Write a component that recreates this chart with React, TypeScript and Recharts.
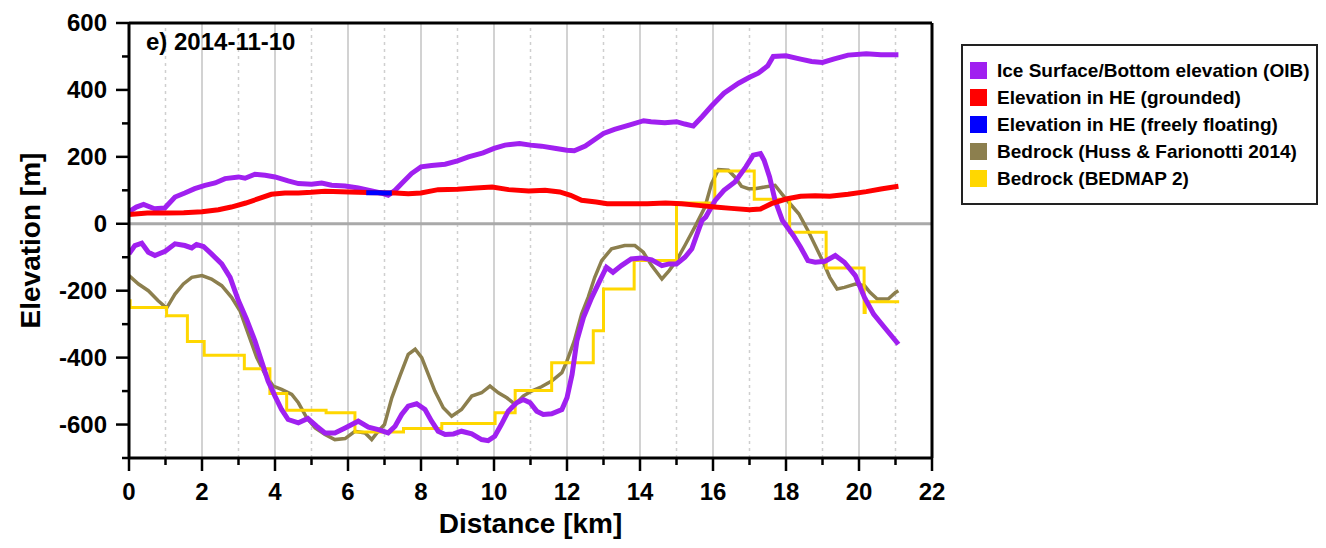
import React from 'react';
import { LineChart, Line, XAxis, YAxis, ReferenceLine, Label } from 'recharts';

const FONT = 'Arial, "Liberation Sans", Helvetica, sans-serif';

const distanceTicks = [0, 1, 2, 3, 4, 5, 6, 7, 8, 9, 10, 11, 12, 13, 14, 15, 16, 17, 18, 19, 20, 21, 22];
const elevationTicks = [-700, -600, -500, -400, -300, -200, -100, 0, 100, 200, 300, 400, 500, 600];
const gridSolid = [2, 4, 6, 8, 10, 12, 14, 16, 18, 20];
const gridDashed = [1, 3, 5, 7, 9, 11, 13, 15, 17, 19, 21];

// [distance km, elevation m]
const iceSurface = [
  [0, 36], [0.2, 50], [0.4, 58], [0.7, 45], [0.98, 47], [1.26, 80], [1.53, 92], [1.8, 105], [2.08, 115],
  [2.36, 122], [2.63, 135], [3.0, 140], [3.18, 136], [3.45, 148], [3.73, 145], [4.0, 140], [4.36, 128],
  [4.64, 120], [5.0, 118], [5.28, 122], [5.55, 115], [5.92, 113], [6.28, 107], [6.65, 98], [6.9, 92],
  [7.1, 85], [7.29, 100], [7.47, 120], [7.74, 150], [8.0, 170], [8.29, 174], [8.66, 178], [9.0, 188],
  [9.3, 200], [9.7, 212], [10.0, 225], [10.3, 235], [10.7, 240], [11.0, 235], [11.3, 232], [11.7, 225],
  [12.0, 220], [12.2, 218], [12.5, 232], [12.8, 255], [13.0, 270], [13.3, 282], [13.7, 295], [14.1, 308],
  [14.3, 305], [14.68, 302], [15.0, 305], [15.23, 298], [15.46, 292], [15.7, 320], [15.96, 352],
  [16.3, 390], [16.7, 420], [17.0, 438], [17.24, 450], [17.5, 472], [17.65, 500], [18.0, 502],
  [18.4, 492], [18.7, 485], [19.0, 482], [19.3, 492], [19.7, 504], [20.2, 508], [20.6, 505], [21.08, 505],
];

const iceBottom = [
  [0, -90], [0.16, -65], [0.35, -58], [0.53, -85], [0.71, -95], [0.99, -82], [1.26, -60], [1.53, -65],
  [1.72, -72], [1.85, -62], [2.04, -68], [2.26, -90], [2.54, -120], [2.77, -160], [3.0, -230],
  [3.22, -285], [3.45, -350], [3.63, -410], [3.81, -470], [4.0, -515], [4.18, -555], [4.36, -585],
  [4.64, -595], [4.9, -582], [5.14, -605], [5.37, -625], [5.64, -625], [5.92, -610], [6.28, -590],
  [6.56, -608], [6.83, -615], [7.1, -625], [7.29, -605], [7.47, -570], [7.65, -545], [7.88, -538],
  [8.11, -555], [8.29, -590], [8.47, -620], [8.66, -630], [8.89, -628], [9.11, -620], [9.39, -628],
  [9.66, -645], [9.84, -648], [10.02, -635], [10.2, -600], [10.39, -560], [10.62, -535], [10.8, -525],
  [10.99, -535], [11.17, -560], [11.35, -570], [11.58, -568], [11.86, -555], [12.0, -520], [12.14, -450],
  [12.27, -350], [12.45, -280], [12.68, -220], [12.9, -170], [13.08, -130], [13.26, -145], [13.49, -125],
  [13.76, -105], [14.04, -102], [14.32, -108], [14.6, -125], [14.8, -120], [15.0, -120], [15.23, -100],
  [15.42, -75], [15.6, -20], [15.7, 10], [15.8, 20], [16.06, 70], [16.3, 100], [16.6, 125], [16.9, 170],
  [17.1, 205], [17.3, 210], [17.4, 190], [17.55, 140], [17.7, 70], [17.9, 10], [18.2, -35], [18.4, -70],
  [18.6, -110], [18.8, -115], [19.07, -112], [19.35, -95], [19.6, -115], [19.9, -155], [20.15, -220],
  [20.4, -270], [20.7, -310], [21.08, -360],
];

const heGrounded = [
  [0, 28], [0.5, 32], [1.0, 32], [1.5, 33], [2.0, 36], [2.45, 42], [2.8, 50], [3.2, 62], [3.55, 75],
  [3.9, 88], [4.27, 92], [4.64, 92], [5.0, 94], [5.37, 97], [5.8, 96], [6.28, 94], [6.8, 93], [7.3, 92],
  [7.65, 90], [8.0, 92], [8.47, 102], [9.0, 103], [9.5, 107], [9.95, 110], [10.4, 102], [10.95, 98],
  [11.4, 100], [11.8, 95], [12.1, 85], [12.4, 70], [12.8, 65], [13.1, 60], [13.7, 60], [14.2, 60],
  [14.7, 62], [15.14, 60], [15.6, 55], [16.05, 50], [16.5, 46], [17.0, 42], [17.3, 44], [17.6, 60],
  [18.0, 74], [18.4, 82], [18.8, 84], [19.2, 82], [19.7, 88], [20.2, 96], [20.6, 104], [21.08, 112],
];

const heFloating = [[6.5, 93], [6.8, 93], [7.0, 92], [7.2, 92]];

const bedHuss = [
  [0, -155], [0.26, -180], [0.53, -200], [0.8, -230], [1.03, -252], [1.26, -210], [1.49, -180],
  [1.72, -160], [2.0, -155], [2.26, -165], [2.54, -185], [2.81, -220], [3.04, -260], [3.27, -330],
  [3.5, -400], [3.73, -450], [3.95, -485], [4.18, -495], [4.46, -510], [4.64, -535], [4.87, -580],
  [5.1, -610], [5.37, -630], [5.64, -645], [5.92, -642], [6.19, -620], [6.47, -625], [6.65, -645],
  [6.83, -620], [7.0, -600], [7.2, -520], [7.42, -455], [7.65, -390], [7.84, -375], [8.02, -400],
  [8.2, -450], [8.38, -500], [8.61, -550], [8.84, -575], [9.11, -555], [9.39, -515], [9.66, -505],
  [9.89, -485], [10.12, -505], [10.35, -520], [10.58, -540], [10.8, -515], [11.03, -500], [11.3, -487],
  [11.58, -470], [11.86, -445], [12.0, -410], [12.2, -350], [12.4, -270], [12.58, -220], [12.76, -160],
  [12.95, -110], [13.22, -75], [13.58, -65], [13.86, -65], [14.09, -85], [14.32, -125], [14.6, -165],
  [14.8, -140], [15.0, -110], [15.23, -65], [15.5, -10], [15.78, 50], [15.96, 120], [16.15, 162],
  [16.42, 160], [16.6, 140], [16.78, 112], [16.97, 105], [17.15, 105], [17.42, 110], [17.7, 115],
  [17.88, 90], [18.07, 65], [18.35, 30], [18.6, -20], [18.8, -65], [19.0, -110], [19.2, -160],
  [19.4, -195], [19.6, -190], [19.9, -180], [20.15, -185], [20.3, -205], [20.5, -225], [20.8, -225],
  [21.0, -205], [21.08, -200],
];

// step starts (drawn stepAfter)
const bedBedmap = [
  [0, -230], [0.03, -250], [1.03, -275], [1.6, -352], [2.06, -393], [3.16, -433], [3.86, -507],
  [4.32, -557], [5.4, -565], [6.19, -622], [7.52, -612], [8.57, -597], [10.03, -565], [10.58, -498],
  [11.58, -415], [12.72, -320], [13.0, -195], [13.84, -110], [15.0, 62], [16.05, 158], [17.13, 73],
  [18.1, -25], [19.1, -132], [20.14, -265], [20.17, -233], [21.1, -233],
];

const legendItems = [
  { label: 'Ice Surface/Bottom elevation (OIB)', color: '#a020f0' },
  { label: 'Elevation in HE (grounded)', color: '#ff0000' },
  { label: 'Elevation in HE (freely floating)', color: '#0000ff' },
  { label: 'Bedrock (Huss & Farionotti 2014)', color: '#8c7f4e' },
  { label: 'Bedrock (BEDMAP 2)', color: '#ffd700' },
];

const toPoints = (arr: number[][]) => arr.map(([x, y]) => ({ x, y }));

const BottomTick = ({ x, y, payload }: any) => {
  const major = payload.value % 2 === 0;
  return (
    <g>
      <line x1={x} y1={y} x2={x} y2={y + (major ? 13 : 7)} stroke="#000" strokeWidth={2.5} />
      {major && (
        <text x={x} y={y + 42} textAnchor="middle" fontSize={24} fontWeight="bold" fontFamily={FONT} fill="#000">
          {payload.value}
        </text>
      )}
    </g>
  );
};

const TopTick = ({ x, y, payload }: any) => {
  const major = payload.value % 2 === 0;
  return <line x1={x} y1={y} x2={x} y2={y - (major ? 13 : 7)} stroke="#000" strokeWidth={2.5} />;
};

const LeftTick = ({ x, y, payload }: any) => {
  const major = payload.value % 200 === 0;
  return (
    <g>
      <line x1={x} y1={y} x2={x - (major ? 13 : 7)} y2={y} stroke="#000" strokeWidth={2.5} />
      {major && (
        <text x={x - 22} y={y + 8} textAnchor="end" fontSize={24} fontWeight="bold" fontFamily={FONT} fill="#000">
          {payload.value}
        </text>
      )}
    </g>
  );
};

const RightTick = ({ x, y, payload }: any) => {
  const major = payload.value % 200 === 0;
  return <line x1={x} y1={y} x2={x + (major ? 13 : 7)} y2={y} stroke="#000" strokeWidth={2.5} />;
};

const axisLine = { stroke: '#000', strokeWidth: 3 };

export default function App() {
  return (
    <div style={{ position: 'relative', width: 1310, height: 532, fontFamily: FONT, background: '#fff' }}>
      <LineChart width={1310} height={532} margin={{ top: 0, right: 366, bottom: 0, left: 0 }}>
        <XAxis
          dataKey="x"
          type="number"
          domain={[0, 22]}
          ticks={distanceTicks}
          interval={0}
          height={82}
          tickSize={0}
          tickMargin={0}
          tickLine={false}
          axisLine={axisLine}
          tick={<BottomTick />}
          allowDataOverflow
        >
          <Label
            content={({ viewBox }: any) => (
              <text
                x={viewBox.x + viewBox.width / 2}
                y={viewBox.y + 75}
                textAnchor="middle"
                fontSize={28}
                fontWeight="bold"
                fontFamily={FONT}
                fill="#000"
              >
                Distance [km]
              </text>
            )}
          />
        </XAxis>
        <XAxis
          xAxisId="top"
          orientation="top"
          type="number"
          domain={[0, 22]}
          ticks={distanceTicks}
          interval={0}
          height={15}
          tickSize={0}
          tickMargin={0}
          tickLine={false}
          axisLine={axisLine}
          tick={<TopTick />}
        />
        <YAxis
          type="number"
          domain={[-700, 600]}
          ticks={elevationTicks}
          interval={0}
          width={121}
          tickSize={0}
          tickMargin={0}
          tickLine={false}
          axisLine={axisLine}
          tick={<LeftTick />}
          allowDataOverflow
        >
          <Label
            content={({ viewBox }: any) => {
              const cx = viewBox.x + 22;
              const cy = viewBox.y + viewBox.height / 2;
              return (
                <text
                  x={cx}
                  y={cy}
                  transform={`rotate(-90, ${cx}, ${cy})`}
                  textAnchor="middle"
                  dominantBaseline="central"
                  fontSize={28}
                  fontWeight="bold"
                  fontFamily={FONT}
                  fill="#000"
                >
                  Elevation [m]
                </text>
              );
            }}
          />
        </YAxis>
        <YAxis
          yAxisId="right"
          orientation="right"
          type="number"
          domain={[-700, 600]}
          ticks={elevationTicks}
          interval={0}
          width={20}
          tickSize={0}
          tickMargin={0}
          tickLine={false}
          axisLine={axisLine}
          tick={<RightTick />}
        />

        {gridSolid.map((k) => (
          <ReferenceLine key={`s${k}`} x={k} stroke="#d2d2d2" strokeWidth={2} />
        ))}
        {gridDashed.map((k) => (
          <ReferenceLine key={`d${k}`} x={k} stroke="#cfcfcf" strokeWidth={1.5} strokeDasharray="3 4" />
        ))}
        <ReferenceLine y={0} stroke="#a9a9a9" strokeWidth={3} />

        <Line data={toPoints(bedHuss)} dataKey="y" type="linear" stroke="#8c7f4e" strokeWidth={3.5} dot={false} isAnimationActive={false} />
        <Line data={toPoints(bedBedmap)} dataKey="y" type="stepAfter" stroke="#ffd700" strokeWidth={3} dot={false} isAnimationActive={false} />
        <Line data={toPoints(iceBottom)} dataKey="y" type="linear" stroke="#a020f0" strokeWidth={5} dot={false} isAnimationActive={false} />
        <Line data={toPoints(iceSurface)} dataKey="y" type="linear" stroke="#a020f0" strokeWidth={5} dot={false} isAnimationActive={false} />
        <Line data={toPoints(heGrounded)} dataKey="y" type="linear" stroke="#ff0000" strokeWidth={5} dot={false} isAnimationActive={false} />
        <Line data={toPoints(heFloating)} dataKey="y" type="linear" stroke="#0000ff" strokeWidth={5} dot={false} isAnimationActive={false} />
      </LineChart>

      <div
        style={{
          position: 'absolute',
          left: 138,
          top: 22,
          fontSize: 24,
          fontWeight: 'bold',
          lineHeight: 1,
          color: '#000',
        }}
      >
        e) 2014-11-10
      </div>

      <div
        style={{
          position: 'absolute',
          left: 953,
          top: 36,
          width: 357,
          height: 161,
          boxSizing: 'border-box',
          border: '2px solid #222',
          background: '#fff',
          paddingTop: 11,
          paddingLeft: 7,
        }}
      >
        {legendItems.map((item) => (
          <div key={item.label} style={{ display: 'flex', alignItems: 'center', height: 27 }}>
            <span style={{ width: 17, height: 17, background: item.color, marginRight: 10, flexShrink: 0 }} />
            <span style={{ fontSize: 19, fontWeight: 'bold', whiteSpace: 'nowrap', color: '#000' }}>{item.label}</span>
          </div>
        ))}
      </div>
    </div>
  );
}
